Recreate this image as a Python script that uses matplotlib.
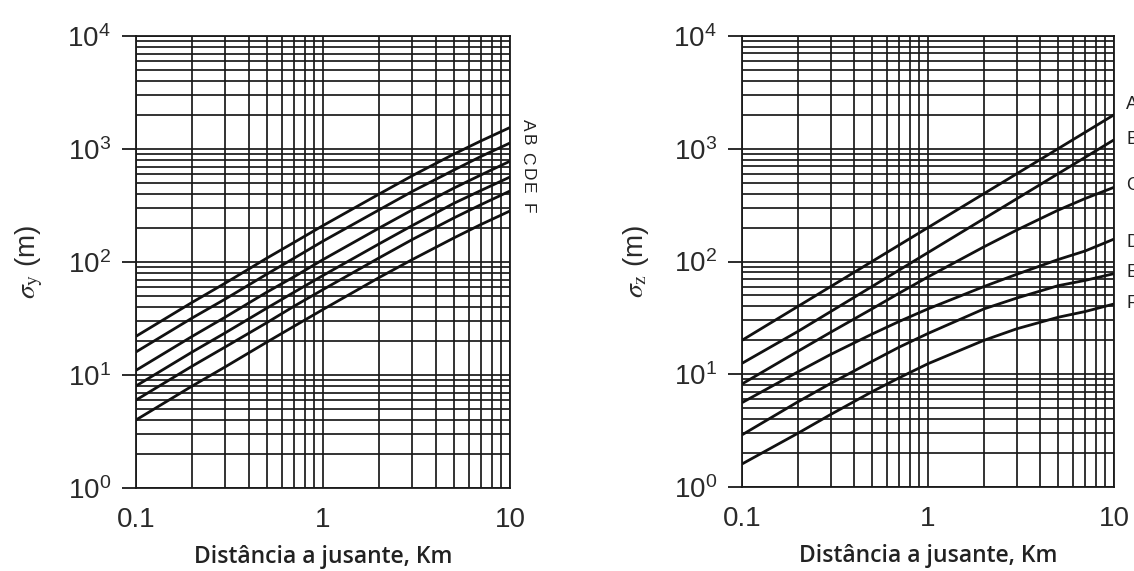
import math
import matplotlib
matplotlib.use("Agg")
import matplotlib.pyplot as plt
from matplotlib.ticker import FixedLocator, LogLocator, NullFormatter, FuncFormatter

plt.rcParams['font.family'] = ['Liberation Sans', 'DejaVu Sans']
plt.rcParams['mathtext.fontset'] = 'stix'

# ---- data (distance in km, sigma in m) ----
distance_km = [0.1, 0.2, 0.3, 0.5, 0.7, 1, 2, 3, 5, 7, 10]
classes = ['A', 'B', 'C', 'D', 'E', 'F']

sigma_y = {
    'A': [22, 44, 65, 108, 149, 210, 400, 580, 900, 1180, 1550],
    'B': [16, 32, 47, 78, 108, 153, 290, 421, 650, 860, 1130],
    'C': [11, 22, 32.5, 54, 74, 105, 200, 289, 450, 590, 780],
    'D': [8, 16, 23.6, 39, 54, 76, 145, 210, 330, 430, 565],
    'E': [6, 12, 17.7, 29, 40.6, 57, 109, 158, 245, 322, 425],
    'F': [4, 8, 11.8, 19.5, 27, 38, 73, 105, 163, 215, 283],
}
sigma_z = {
    'A': [20, 40, 60, 100, 140, 200, 400, 600, 1000, 1400, 2000],
    'B': [12.5, 24, 36, 60, 84, 120, 240, 360, 600, 840, 1200],
    'C': [8.2, 16, 23.6, 38, 52.4, 73, 135, 190, 285, 362, 455],
    'D': [5.6, 10.5, 15, 22.7, 29.4, 38, 60, 77, 104, 124, 158],
    'E': [2.9, 5.7, 8.3, 13, 17.4, 23, 38, 47.4, 61, 68, 78],
    'F': [1.6, 3.0, 4.4, 7.0, 9.3, 12.4, 20, 25.3, 32, 36, 42],
}
x_ticks = [0.1, 1, 10]
x_tick_labels = ['0.1', '1', '10']
y_ticks = [1, 10, 100, 1000, 10000]

W, H = 1134, 571
fig = plt.figure(figsize=(W / 100, H / 100), dpi=100)
fig.patch.set_facecolor('white')

ax1 = fig.add_axes([136 / W, 1 - 488 / H, (510 - 136) / W, (488 - 36) / H])
ax2 = fig.add_axes([742 / W, 1 - 487 / H, (1114 - 742) / W, (487 - 36) / H])

label_offsets_right = {'A': (12, 10), 'B': (12, 0), 'C': (12, 2), 'D': (12, -3), 'E': (12, 1), 'F': (12, 0)}


def style(ax, data, ylabel, left_labels):
    ax.set_xscale('log')
    ax.set_yscale('log')
    ax.set_xlim(0.1, 10)
    ax.set_ylim(1, 10000)
    for c in classes:
        ax.plot(distance_km, data[c], color='#111111', lw=2.0, solid_capstyle='butt', zorder=3)
    ax.grid(True, which='both', color='#1a1a1a', lw=1.25, zorder=1)
    ax.set_axisbelow(True)
    for s in ax.spines.values():
        s.set_color('#1a1a1a')
        s.set_linewidth(1.3)
    ax.xaxis.set_major_locator(FixedLocator(x_ticks))
    ax.xaxis.set_major_formatter(FuncFormatter(lambda v, p: x_tick_labels[x_ticks.index(v)] if v in x_ticks else ''))
    ax.xaxis.set_minor_locator(LogLocator(base=10, subs=range(2, 10), numticks=20))
    ax.xaxis.set_minor_formatter(NullFormatter())
    ax.yaxis.set_major_locator(FixedLocator(y_ticks))
    ax.yaxis.set_major_formatter(FuncFormatter(lambda v, p: r'$\mathregular{10^{%d}}$' % round(math.log10(v))))
    ax.yaxis.set_minor_locator(LogLocator(base=10, subs=range(2, 10), numticks=20))
    ax.yaxis.set_minor_formatter(NullFormatter())
    ax.tick_params(axis='x', which='both', length=0, pad=14, labelsize=20, labelcolor='#2a2a2a')
    ax.tick_params(axis='y', which='major', length=10, width=1.3, direction='out', pad=8,
                   labelsize=20, labelcolor='#2a2a2a', color='#1a1a1a')
    ax.tick_params(axis='y', which='minor', length=0)
    ax.set_xlabel('Distância a jusante, Km', family=['Open Sans', 'DejaVu Sans'], fontweight='semibold',
                  fontsize=16.5, color='#222222', labelpad=8)
    ax.set_ylabel(ylabel, fontsize=20, color='#2a2a2a', labelpad=16)
    for c in classes:
        if left_labels:
            ax.annotate(c, xy=(distance_km[-1], data[c][-1]), xytext=(17, 3), textcoords='offset pixels',
                        rotation=270, ha='center', va='center', fontsize=12.5, color='#222222',
                        annotation_clip=False)
        else:
            dx, dy = label_offsets_right[c]
            ax.annotate(c, xy=(distance_km[-1], data[c][-1]), xytext=(dx, dy), textcoords='offset pixels',
                        ha='left', va='center', fontsize=13, color='#222222', annotation_clip=False)


style(ax1, sigma_y, r'$\sigma_{\mathrm{y}}$ (m)', True)
style(ax2, sigma_z, r'$\sigma_{\mathrm{z}}$ (m)', False)

fig.savefig('out.png', dpi=100, facecolor='white')
